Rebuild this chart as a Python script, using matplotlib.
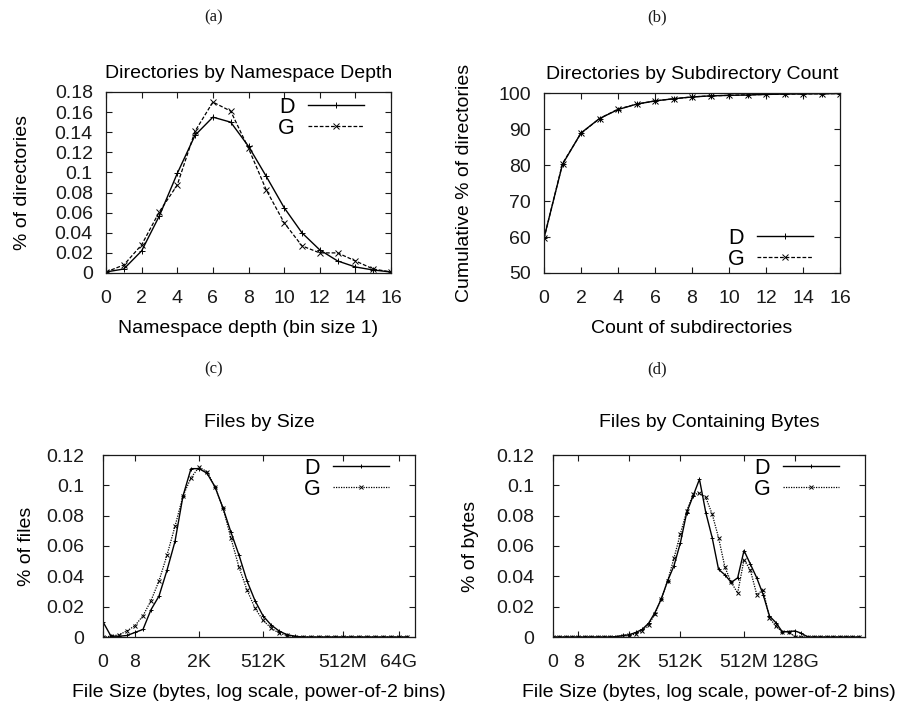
import matplotlib
matplotlib.use("Agg")
import matplotlib.pyplot as plt
import numpy as np

plt.rcParams['font.family'] = ['Liberation Sans', 'DejaVu Sans']

# ---------------- data ----------------
depth_x = list(range(17))
depth_D = [0.001, 0.004, 0.022, 0.057, 0.099, 0.137, 0.155, 0.150, 0.126, 0.096,
           0.065, 0.040, 0.023, 0.012, 0.006, 0.003, 0.001]
depth_G = [0.001, 0.008, 0.028, 0.061, 0.0875, 0.141, 0.170, 0.161, 0.124, 0.0825,
           0.050, 0.027, 0.020, 0.020, 0.012, 0.004, 0.001]

sub_x = list(range(17))
sub_D = [59.7, 80.2, 88.9, 92.9, 95.4, 96.9, 97.8, 98.4, 98.9, 99.2,
         99.35, 99.45, 99.6, 99.7, 99.75, 99.8, 99.85]
sub_G = [59.6, 80.4, 88.8, 92.9, 95.5, 96.9, 97.8, 98.4, 98.9, 99.2,
         99.35, 99.5, 99.6, 99.7, 99.75, 99.8, 99.85]

size_D = [0.010, 0.0005, 0.0005, 0.001, 0.003, 0.005, 0.018, 0.027, 0.044, 0.063,
          0.093, 0.111, 0.111, 0.108, 0.099, 0.085, 0.069, 0.054, 0.037, 0.024,
          0.014, 0.008, 0.004, 0.0015, 0.0005, 0, 0, 0, 0, 0,
          0, 0, 0, 0, 0, 0, 0, 0, 0]
size_G = [0.0, 0.0005, 0.0015, 0.004, 0.0075, 0.014, 0.024, 0.037, 0.054, 0.073,
          0.093, 0.105, 0.112, 0.109, 0.099, 0.085, 0.065, 0.046, 0.031, 0.019,
          0.011, 0.006, 0.0025, 0.001, 0.0002, 0, 0, 0, 0, 0,
          0, 0, 0, 0, 0, 0, 0, 0, 0]
size_x = list(range(len(size_D)))
size_ticks = [0, 4, 12, 20, 30, 37]
size_ticklabels = ['0', '8', '2K', '512K', '512M', '64G']

bytes_D = [0, 0, 0, 0, 0, 0, 0, 0, 0, 0,
           0.0003, 0.001, 0.0015, 0.003, 0.005, 0.009, 0.016, 0.025, 0.037, 0.047,
           0.062, 0.082, 0.093, 0.104, 0.082, 0.0655, 0.0446, 0.041, 0.036, 0.039,
           0.057, 0.048, 0.039, 0.028, 0.0138, 0.0095, 0.0035, 0.0035, 0.004, 0.0025,
           0, 0, 0, 0, 0, 0, 0, 0, 0]
bytes_G = [0, 0, 0, 0, 0, 0, 0, 0, 0, 0,
           0.0002, 0.0005, 0.001, 0.002, 0.004, 0.008, 0.015, 0.025, 0.037, 0.052,
           0.068, 0.083, 0.094, 0.0947, 0.092, 0.081, 0.0655, 0.046, 0.036, 0.029,
           0.051, 0.044, 0.028, 0.031, 0.0127, 0.007, 0.0035, 0.0035, 0.0002, 0,
           0, 0, 0, 0, 0, 0, 0, 0, 0]
bytes_x = list(range(len(bytes_D)))
bytes_ticks = [0, 4, 12, 20, 30, 38]
bytes_ticklabels = ['0', '8', '2K', '512K', '512M', '128G']

ytick_a = [0, 0.02, 0.04, 0.06, 0.08, 0.1, 0.12, 0.14, 0.16, 0.18]
ytick_a_labels = ['0', '0.02', '0.04', '0.06', '0.08', '0.1', '0.12', '0.14', '0.16', '0.18']
ytick_c = [0, 0.02, 0.04, 0.06, 0.08, 0.1, 0.12]
ytick_c_labels = ['0', '0.02', '0.04', '0.06', '0.08', '0.1', '0.12']

# ---------------- layout ----------------
W, H = 903, 702
fig = plt.figure(figsize=(W / 100, H / 100), dpi=100)


def rect(l, r, t, b):
    return [l / W, 1 - b / H, (r - l) / W, (b - t) / H]


FS = 14
LEG_FS = 15.5
INK = '#1a1a1a'


def style(ax, ypad):
    ax.tick_params(direction='in', top=True, right=True, length=4, width=0.8,
                   labelsize=FS, colors=INK)
    ax.tick_params(axis='y', pad=ypad)
    ax.tick_params(axis='x', pad=12.5)
    for s in ax.spines.values():
        s.set_linewidth(0.9)
        s.set_color(INK)


def legend(ax, x, y):
    ax.legend(loc='upper right', bbox_to_anchor=(x, y), frameon=False,
              markerfirst=False, fontsize=LEG_FS, handlelength=2.6,
              handletextpad=0.6, borderpad=0, borderaxespad=0,
              labelspacing=0.0)


# (a)
axa = fig.add_axes(rect(106, 391, 92, 273))
axa.plot(depth_x, depth_D, color='black', lw=1.0, marker='+', ms=5, mew=0.7, label='D')
axa.plot(depth_x, depth_G, color='black', lw=0.9, ls=(0, (3, 1.5)), marker='x', ms=4,
         mew=0.7, label='G')
axa.set_xlim(0, 16)
axa.set_ylim(0, 0.18)
axa.set_xticks(range(0, 17, 2))
axa.set_yticks(ytick_a)
axa.set_yticklabels(ytick_a_labels)
style(axa, 9.5)
axa.set_title('Directories by Namespace Depth', fontsize=FS, pad=10)
axa.set_xlabel('Namespace depth (bin size 1)', fontsize=FS, labelpad=9)
axa.set_ylabel('% of directories', fontsize=FS, labelpad=17)
legend(axa, 0.905, 0.975)

# (b)
axb = fig.add_axes(rect(544, 840, 93, 273))
axb.plot(sub_x, sub_D, color='black', lw=1.0, marker='+', ms=5, mew=0.7, label='D')
axb.plot(sub_x, sub_G, color='black', lw=0.9, ls=(0, (3, 1.5)), marker='x', ms=4,
         mew=0.7, label='G')
axb.set_xlim(0, 16)
axb.set_ylim(50, 100)
axb.set_xticks(range(0, 17, 2))
axb.set_yticks(range(50, 101, 10))
style(axb, 9.5)
axb.set_title('Directories by Subdirectory Count', fontsize=FS, pad=10)
axb.set_xlabel('Count of subdirectories', fontsize=FS, labelpad=9)
axb.set_ylabel('Cumulative % of directories', fontsize=FS, labelpad=18)
legend(axb, 0.909, 0.25)

# (c)
axc = fig.add_axes(rect(103, 415, 455, 637))
axc.plot(size_x, size_D, color='black', lw=1.0, marker='+', ms=3, mew=0.7, label='D')
axc.plot(size_x, size_G, color='black', lw=0.9, ls=(0, (1, 1)), marker='x', ms=2.5,
         mew=0.7, label='G')
axc.set_xlim(0, 39)
axc.set_ylim(0, 0.12)
axc.set_xticks(size_ticks)
axc.set_xticklabels(size_ticklabels)
axc.set_yticks(ytick_c)
axc.set_yticklabels(ytick_c_labels)
style(axc, 13.5)
axc.set_title('Files by Size', fontsize=FS, pad=20)
axc.set_xlabel('File Size (bytes, log scale, power-of-2 bins)', fontsize=FS, labelpad=9)
axc.set_ylabel('% of files', fontsize=FS, labelpad=8)
legend(axc, 0.917, 0.985)

# (d)
axd = fig.add_axes(rect(553, 865, 455, 637))
axd.plot(bytes_x, bytes_D, color='black', lw=1.0, marker='+', ms=3, mew=0.7, label='D')
axd.plot(bytes_x, bytes_G, color='black', lw=0.9, ls=(0, (1, 1)), marker='x', ms=2.5,
         mew=0.7, label='G')
axd.set_xlim(0, 49)
axd.set_ylim(0, 0.12)
axd.set_xticks(bytes_ticks)
axd.set_xticklabels(bytes_ticklabels)
axd.set_yticks(ytick_c)
axd.set_yticklabels(ytick_c_labels)
style(axd, 13.5)
axd.set_title('Files by Containing Bytes', fontsize=FS, pad=20)
axd.set_xlabel('File Size (bytes, log scale, power-of-2 bins)', fontsize=FS, labelpad=9)
axd.set_ylabel('% of bytes', fontsize=FS, labelpad=12)
legend(axd, 0.917, 0.985)

# sub-figure labels
for txt, x, y in [('(a)', 214, 17), ('(b)', 657, 17), ('(c)', 214, 369), ('(d)', 657, 369)]:
    fig.text(x / W, 1 - y / H, txt, ha='center', va='center', fontsize=12,
             family=['Liberation Serif', 'DejaVu Serif'], color=INK)

fig.savefig('out.png', dpi=100)
